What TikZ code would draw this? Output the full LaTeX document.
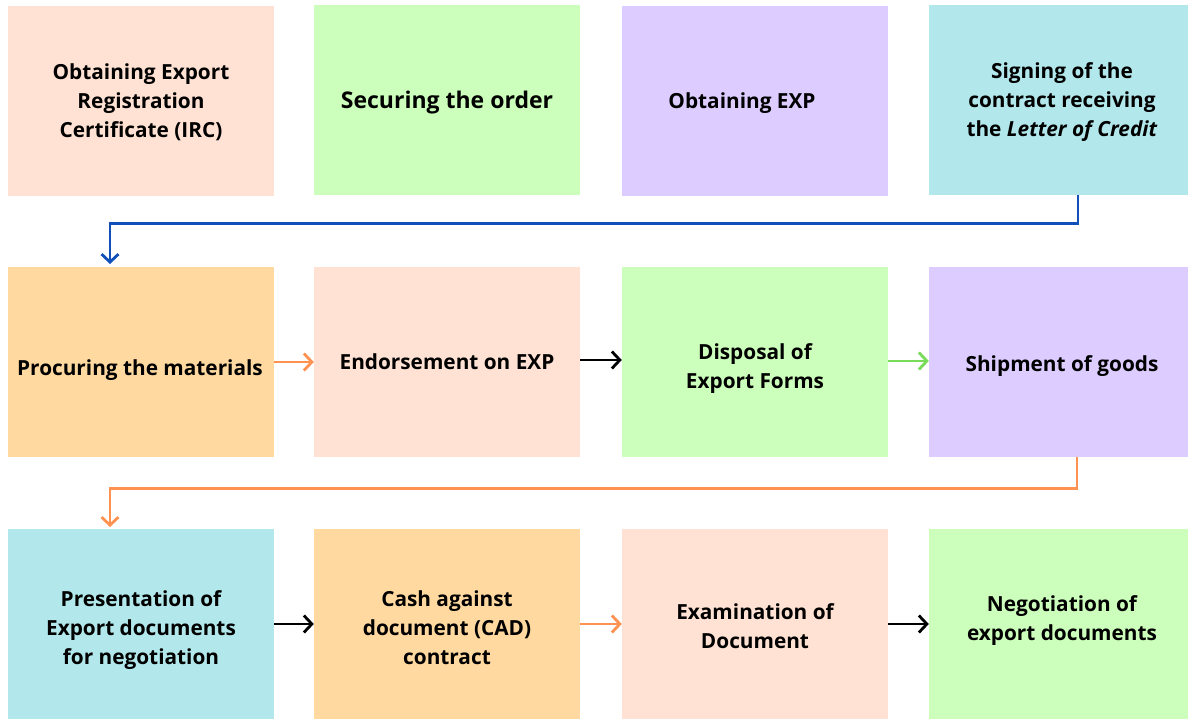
\documentclass[tikz,border=0pt]{standalone}
\usepackage{fontspec}
\setmainfont{Open Sans}
\usepackage{tikz}
\definecolor{peach}{RGB}{255, 226, 211}
\definecolor{mint}{RGB}{204, 255, 187}
\definecolor{lilac}{RGB}{220, 204, 255}
\definecolor{aqua}{RGB}{178, 232, 235}
\definecolor{apricot}{RGB}{255, 217, 160}
\definecolor{linkblue}{RGB}{16, 80, 184}
\definecolor{linkorange}{RGB}{255, 146, 80}
\definecolor{linkgreen}{RGB}{120, 220, 90}
\usetikzlibrary{arrows.meta}
\usetikzlibrary{positioning}

\begin{document}
\begin{tikzpicture}
				[x=1pt,y=-1pt,
				box/.style={rectangle, minimum width=266pt, minimum height=190pt, inner sep=0pt, align=center,
					text depth=0pt, font=\fontsize{20.8}{29}\selectfont\bfseries},
				link/.style={line width=2.8pt, -{Straight Barb[length=8pt,width=17pt,line width=2.8pt]}}]
				\useasboundingbox (0,0) rectangle (1188,719);
				% first row
				\node (irc) [box, fill=peach, text depth=1pt] at (141,101) {Obtaining Export\\Registration\\Certificate (IRC)};
				\node (order) [box, fill=mint, text depth=1pt, font=\fontsize{23}{29}\selectfont\bfseries] at (447,100) {Securing the order};
				\node (exp) [box, fill=lilac, text depth=1pt] at (755,101) {\hspace*{-26pt}Obtaining EXP};
				\node (sign) [box, fill=aqua, text depth=1pt] at (1062,100) {Signing of the\\contract receiving\\the \textit{Letter of Credit}};
				% second row
				\node (proc) [box, fill=apricot, text height=26pt] at (141,362) {\hspace*{-2pt}Procuring the materials};
				\node (endorse) [box, fill=peach, text depth=1pt] at (447,362) {Endorsement on EXP};
				\node (forms) [box, fill=mint, text height=53pt] at (755,362) {Disposal of\\Export Forms};
				\node (ship) [box, fill=lilac, text height=18pt] at (1062,362) {Shipment of goods};
				% third row
				\node (present) [box, fill=aqua, text height=80pt] at (141,624) {Presentation of\\Export documents\\for negotiation};
				\node (cad) [box, fill=apricot, text height=80pt] at (447,624) {Cash against\\document (CAD)\\contract};
				\node (exam) [box, fill=peach, text height=49pt] at (755,624) {Examination of\\Document};
				\node (nego) [box, fill=mint, text depth=11pt] at (1062,624) {Negotiation of\\export documents};
				% arrows
				\coordinate (blueend) at (110,264);
				\coordinate (orangeend) at (110,527);
				\draw [link, color=linkblue] ([xshift=16pt]sign.south) -- ++(0,28) -| (blueend);
				\draw [link, color=linkorange] ([xshift=15pt]ship.south) -- ++(0,31) -| (orangeend);
				\draw [link, color=linkorange] (proc) -- (endorse);
				\draw [link, color=black] ([yshift=2pt]endorse.east) -- ([yshift=2pt]forms.west);
				\draw [link, color=linkgreen] ([yshift=1pt]forms.east) -- ([yshift=1pt]ship.west);
				\draw [link, color=black] (present) -- (cad);
				\draw [link, color=linkorange] (cad) -- (exam);
				\draw [link, color=black] (exam) -- (nego);
		\end{tikzpicture}
\end{document}
